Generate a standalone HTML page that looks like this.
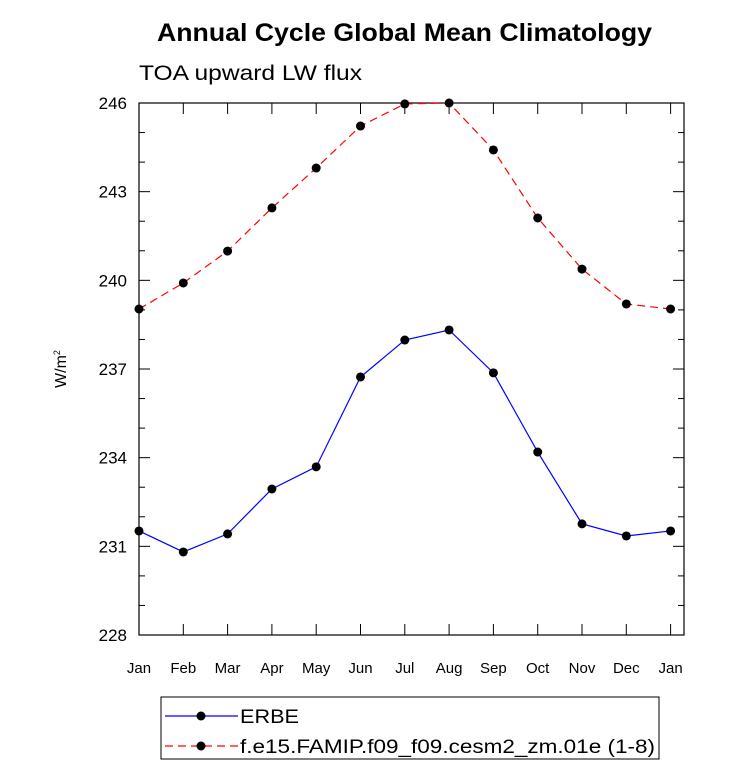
<!DOCTYPE html>
<html><head><meta charset="utf-8"><style>
html,body{margin:0;padding:0;background:#fff;}
svg{display:block;font-family:"Liberation Sans",Arial,sans-serif;}
</style></head><body>
<svg id="chart" width="733" height="773" xmlns="http://www.w3.org/2000/svg">
<text x="157" y="41" font-size="25" font-weight="bold" textLength="495" lengthAdjust="spacingAndGlyphs">Annual Cycle Global Mean Climatology</text>
<text x="139" y="80" font-size="21" textLength="223" lengthAdjust="spacingAndGlyphs">TOA upward LW flux</text>
<text transform="translate(66,369) rotate(-90)" text-anchor="middle" font-size="16">W/m<tspan dy="-6" font-size="9">2</tspan></text>
<g id="plot"></g>
<g>
<rect x="161" y="697" width="498" height="62" fill="none" stroke="#000" stroke-width="1"/>
<g>
<line x1="165" y1="716" x2="238" y2="716" stroke="#0000ff" stroke-width="1.2"/>
<circle cx="201" cy="716" r="4.5" fill="#000"/>
<text x="240" y="723" font-size="19" textLength="59" lengthAdjust="spacingAndGlyphs">ERBE</text></g>
<g>
<line x1="165" y1="746" x2="238" y2="746" stroke="#ff0000" stroke-width="1.2" stroke-dasharray="8,5"/>
<circle cx="201" cy="746" r="4.5" fill="#000"/>
<text x="240" y="753" font-size="19" textLength="415" lengthAdjust="spacingAndGlyphs">f.e15.FAMIP.f09_f09.cesm2_zm.01e (1-8)</text></g>
</g>
</svg>
<script>
const months=["Jan","Feb","Mar","Apr","May","Jun","Jul","Aug","Sep","Oct","Nov","Dec","Jan"];
const erbe=[231.52,230.81,231.42,232.94,233.69,236.73,237.98,238.32,236.87,234.19,231.76,231.35,231.52];
const model=[239.03,239.91,240.99,242.45,243.8,245.22,245.97,246.0,244.41,242.11,240.38,239.2,239.03];
const yTicks=[228,231,234,237,240,243,246];
const NS="http://www.w3.org/2000/svg";
const L=139,R=684,T=103,B=635,ymin=228,ymax=246,step=44.3;
const xs=i=>L+i*step;
const ys=v=>B-(v-ymin)/(ymax-ymin)*(B-T);
const g=document.getElementById('plot');
function mk(tag,a){const e=document.createElementNS(NS,tag);for(const k in a)e.setAttribute(k,a[k]);g.appendChild(e);return e;}
const frame=mk('rect',{x:L,y:T,width:R-L,height:B-T,fill:'none',stroke:'#000','stroke-width':1.2});


for(let v=ymin;v<=ymax;v++){
  const major=yTicks.includes(v);const len=major?11:6;const y=ys(v);
  mk('line',{x1:L,y1:y,x2:L+len,y2:y,stroke:'#000'});
  mk('line',{x1:R,y1:y,x2:R-len,y2:y,stroke:'#000'});
}
yTicks.forEach(v=>{
  const t=mk('text',{x:L-12,y:ys(v)+6,'text-anchor':'end','font-size':17});
  t.textContent=v;
  
  
});
months.forEach((m,i)=>{
  const x=xs(i);
  mk('line',{x1:x,y1:B,x2:x,y2:B-11,stroke:'#000'});
  mk('line',{x1:x,y1:T,x2:x,y2:T+11,stroke:'#000'});
  const t=mk('text',{x:x,y:B+38,'text-anchor':'middle','font-size':15});
  t.textContent=m;
  
  
});
function series(arr,color,dash,name){
  const p=mk('polyline',{points:arr.map((v,i)=>xs(i)+','+ys(v)).join(' '),fill:'none',stroke:color,'stroke-width':1.2});
  if(dash)p.setAttribute('stroke-dasharray',dash);
  
  
  arr.forEach((v,i)=>{
    const c=mk('circle',{cx:xs(i),cy:ys(v),r:4.5,fill:'#000'});
    
    
  });
}
series(model,'#ff0000','8,5','model');
series(erbe,'#0000ff',null,'erbe');
</script>
</body></html>
